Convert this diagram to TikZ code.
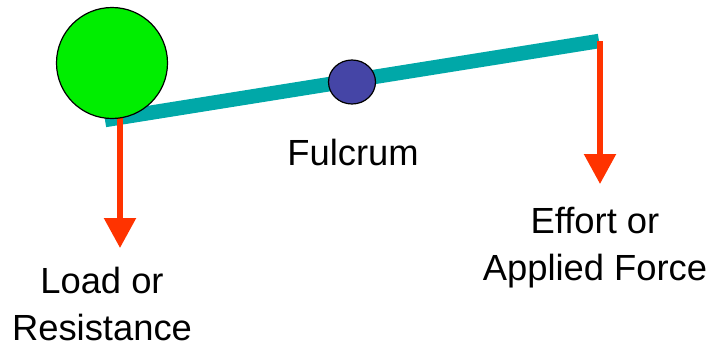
\documentclass[tikz,border=0pt]{standalone}
\usepackage{fontspec}
\setmainfont{Liberation Sans}
\usetikzlibrary{arrows.meta, shapes.geometric}
\definecolor{beamteal}{HTML}{00A8A8}
\definecolor{loadgreen}{HTML}{00EE00}
\definecolor{pivotblue}{HTML}{4545A6}
\definecolor{forcered}{HTML}{FF3300}

\begin{document}
\begin{tikzpicture}[x=1bp, y=-1bp,
    every node/.style={align=center, inner sep=0pt, font=\fontsize{36.5}{46.5}\selectfont},
    force/.style={draw=forcered, line width=5.5bp, -{Triangle[width=31bp, length=30bp]}}]
    \useasboundingbox (0,0) rectangle (715,345);
    \coordinate (beamL) at (105,120);
    \coordinate (beamR) at (599,41);
    \draw[beamteal, line width=14.5bp] (beamL) -- (beamR);
    \coordinate (loadtop) at (120,118);
    \coordinate (loadtip) at (120,248);
    \coordinate (efforttop) at (600,41);
    \coordinate (efforttip) at (600,184);
    \draw[force] (loadtop) -- (loadtip);
    \draw[force] (efforttop) -- (efforttip);
    \node[circle, draw=black, line width=1.2bp, fill=loadgreen, minimum size=111bp] (load) at (112,63) {};
    \node[ellipse, draw=black, line width=1.2bp, fill=pivotblue, minimum width=47bp, minimum height=44bp] (fulcrum) at (352,82) {};
    \node[anchor=base] (fulcrumlbl) at (353,165) {Fulcrum};
    \node[anchor=base] (loadlbl) at (102,340) {Load or\\ Resistance};
    \node[anchor=base] (effortlbl) at (595,280) {Effort or\\ Applied Force};
\end{tikzpicture}
\end{document}
